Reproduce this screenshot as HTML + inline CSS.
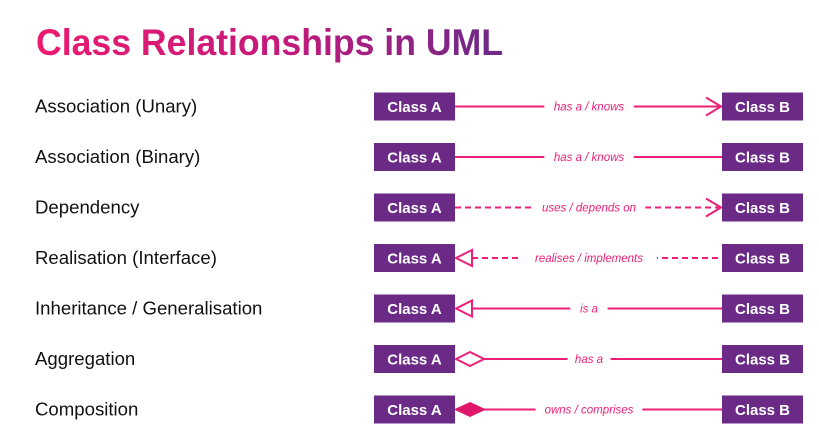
<!DOCTYPE html>
<html><head><meta charset="utf-8"><style>
html,body{margin:0;padding:0;background:#fff;width:819px;height:428px;overflow:hidden}
svg{display:block;font-family:"Liberation Sans",sans-serif}
</style></head><body>
<svg width="819" height="428" viewBox="0 0 819 428">
<defs>
<linearGradient id="tg" x1="36" x2="503" y1="0" y2="0" gradientUnits="userSpaceOnUse">
<stop offset="0" stop-color="#ec1a6f"/><stop offset="0.55" stop-color="#c21a7c"/><stop offset="1" stop-color="#6a2a88"/>
</linearGradient>
</defs>
<text x="36" y="55" font-size="37" font-weight="bold" fill="url(#tg)" textLength="467" lengthAdjust="spacingAndGlyphs">Class Relationships in UML</text>
<g id="rows"></g>
</svg>
<script>
const names=["Association (Unary)","Association (Binary)","Dependency","Realisation (Interface)","Inheritance / Generalisation","Aggregation","Composition"];
const labels=["has a / knows","has a / knows","uses / depends on","realises / implements","is a","has a","owns / comprises"];
const dashed=[false,false,true,true,false,false,false];
const heads=["openB","none","openB","triA","triA","diaA","fillA"];
const NS="http://www.w3.org/2000/svg";
const g=document.getElementById('rows');
const PINK="#ee1f78",PURP="#6a2a86";
function mk(t,a,p){const e=document.createElementNS(NS,t);for(const k in a)e.setAttribute(k,a[k]);(p||g).appendChild(e);return e;}
names.forEach((n,i)=>{
  const cy=106.5+i*50.5;
  const row=mk('g',{});
  
  
  const t=mk('text',{x:35,y:cy+6,'font-size':18.6,fill:'#111'},row);t.textContent=n;
  
  
  let x1=455,x2=722;
  const h=heads[i];
  if(h==='triA')x1=472;
  if(h==='diaA'||h==='fillA')x1=484;
  const ln=mk('line',{x1:x1,x2:x2,y1:cy,y2:cy,stroke:PINK,'stroke-width':2,'stroke-dasharray':dashed[i]?'6,4':'none'},row);
  
  
  let hd=null;
  if(h==='openB')hd=mk('polyline',{points:`${x2-16},${cy-9} ${x2-1},${cy} ${x2-16},${cy+9}`,fill:'none',stroke:PINK,'stroke-width':2},row);
  if(h==='triA')hd=mk('polygon',{points:`456,${cy} 472,${cy-8} 472,${cy+8}`,fill:'#fff',stroke:PINK,'stroke-width':2},row);
  if(h==='diaA')hd=mk('polygon',{points:`456,${cy} 470,${cy-7} 484,${cy} 470,${cy+7}`,fill:'#fff',stroke:PINK,'stroke-width':2},row);
  if(h==='fillA')hd=mk('polygon',{points:`455,${cy} 470,${cy-7} 485,${cy} 470,${cy+7}`,fill:'#e0166b',stroke:'#e0166b','stroke-width':1},row);
  if(hd){}
  const lw=labels[i].length*5.8+14;
  const bg=mk('rect',{x:589-lw/2,y:cy-8,width:lw,height:16,fill:'#fff'},row);
  
  
  const lt=mk('text',{x:589,y:cy+4,'font-size':11.5,'font-style':'italic',fill:PINK,'text-anchor':'middle'},row);lt.textContent=labels[i];
  
  
  [[374,'Class A'],[722,'Class B']].forEach(([bx,tx])=>{
    const r=mk('rect',{x:bx,y:cy-14,width:81,height:28,fill:PURP},row);
    
    
    const bt=mk('text',{x:bx+40.5,y:cy+5.5,'font-size':15,'font-weight':'bold',fill:'#fff','text-anchor':'middle'},row);bt.textContent=tx;
    
    
  });
});
</script>
</body></html>
